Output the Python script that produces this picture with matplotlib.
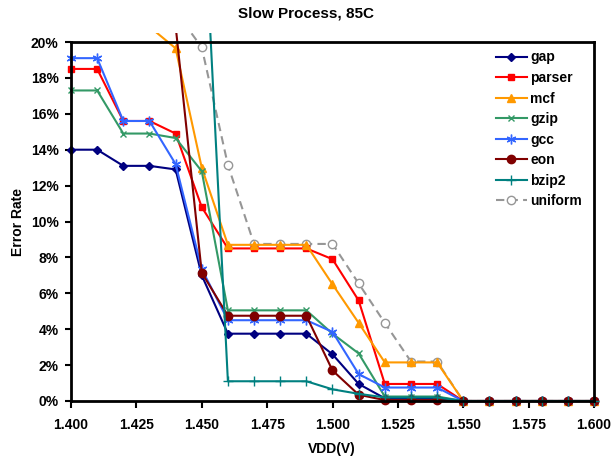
import numpy as np
import matplotlib
matplotlib.use("Agg")
import matplotlib.pyplot as plt
from matplotlib.patches import Rectangle
from matplotlib.ticker import FuncFormatter, MultipleLocator

plt.rcParams["font.family"] = ["Liberation Sans", "DejaVu Sans"]
plt.rcParams["font.weight"] = "bold"

nan = np.nan

# supply voltage steps (V)
vdd = [1.40, 1.41, 1.42, 1.43, 1.44, 1.45, 1.46, 1.47, 1.48, 1.49, 1.50,
       1.51, 1.52, 1.53, 1.54, 1.55, 1.56, 1.57, 1.58, 1.59, 1.60]

# error rate (%) per benchmark, nan = off the top of the scale
gap = [14.0, 14.0, 13.1, 13.1, 12.9, 7.0, 3.75, 3.75, 3.75, 3.75, 2.6,
       0.95, 0.15, 0.15, 0.15, 0, 0, 0, 0, 0, 0]
parser = [18.5, 18.5, 15.6, 15.6, 14.9, 10.8, 8.5, 8.5, 8.5, 8.5, 7.9,
          5.6, 0.95, 0.95, 0.95, 0, 0, 0, 0, 0, 0]
mcf = [nan, nan, nan, 20.85, 19.65, 13.0, 8.7, 8.7, 8.7, 8.7, 6.5,
       4.35, 2.15, 2.15, 2.15, 0, 0, 0, 0, 0, 0]
gzip = [17.3, 17.3, 14.9, 14.9, 14.65, 12.8, 5.05, 5.05, 5.05, 5.05, 3.75,
        2.65, 0.25, 0.25, 0.25, 0, 0, 0, 0, 0, 0]
gcc = [19.1, 19.1, 15.6, 15.6, 13.2, 7.35, 4.5, 4.5, 4.5, 4.5, 3.85,
       1.5, 0.75, 0.75, 0.75, 0, 0, 0, 0, 0, 0]
eon = [nan, nan, nan, nan, 20.9, 7.15, 4.75, 4.75, 4.75, 4.75, 1.7,
       0.35, 0.05, 0.05, 0.05, 0, 0, 0, 0, 0, 0]
bzip2 = [nan, nan, nan, nan, nan, 30.0, 1.1, 1.1, 1.1, 1.1, 0.65,
         0.4, 0.2, 0.2, 0.2, 0, 0, 0, 0, 0, 0]
uniform = [nan, nan, nan, nan, 21.7, 19.7, 13.15, 8.75, 8.75, 8.75, 8.75,
           6.55, 4.35, 2.2, 2.2, 0, 0, 0, 0, 0, 0]

W, H = 613, 457
fig = plt.figure(figsize=(W / 100, H / 100), dpi=100)
ax = fig.add_axes([71 / W, 1 - 401 / H, 523 / W, 359 / H])

# Excel lets lines run a little past the plot box, so clip to a slightly larger rect
clip = Rectangle((-0.02, -0.025), 1.04, 1.05, transform=ax.transAxes,
                 facecolor="none", edgecolor="none")
ax.add_patch(clip)

series = [
    ("uniform", uniform, dict(color="#969696", marker="o", ms=6, mfc="white",
                              mec="#969696", mew=1.0, dashes=(4, 2.5))),
    ("gap", gap, dict(color="#000080", marker="D", ms=4.5)),
    ("parser", parser, dict(color="#FF0000", marker="s", ms=4)),
    ("mcf", mcf, dict(color="#FF9900", marker="^", ms=6)),
    ("gzip", gzip, dict(color="#339966", marker="x", ms=4, mew=1.0)),
    ("gcc", gcc, dict(color="#3366FF", marker=(6, 2, 0), ms=7, mew=1.0)),
    ("eon", eon, dict(color="#800000", marker="o", ms=6)),
    ("bzip2", bzip2, dict(color="#008080", marker="+", ms=7, mew=1.0)),
]

handles = {}
for name, vals, style in series:
    line, = ax.plot(vdd, vals, lw=1.5, label=name, **style)
    line.set_clip_path(clip)
    handles[name] = line

ax.set_xlim(1.4, 1.6)
ax.set_ylim(0, 20)
ax.xaxis.set_major_locator(MultipleLocator(0.025))
ax.yaxis.set_major_locator(MultipleLocator(2))
ax.xaxis.set_major_formatter(FuncFormatter(lambda v, p: f"{v:.3f}"))
ax.yaxis.set_major_formatter(FuncFormatter(lambda v, p: f"{v:.0f}%"))
ax.tick_params(axis="both", direction="out", width=1.5, labelsize=10, pad=5)
ax.tick_params(axis="y", length=4)
ax.tick_params(axis="x", length=5, pad=7)
for s in ax.spines.values():
    s.set_linewidth(2)
    s.set_color("black")
    s.set_zorder(5)

# unframed legend tucked into the top-right corner
order = ["gap", "parser", "mcf", "gzip", "gcc", "eon", "bzip2", "uniform"]
leg = ax.legend([handles[k] for k in order], order, loc="upper left",
                bbox_to_anchor=((496 - 71) / 523, (401 - 50.5) / 359),
                frameon=False, handlelength=2.2, handletextpad=0.25,
                labelspacing=0.47, borderpad=0, borderaxespad=0,
                numpoints=1, prop={"weight": "bold", "size": 10})
leg.set_zorder(10)

fig.text(0.5, 1 - 14 / H, "Slow Process, 85C", ha="center", va="center",
         fontsize=11, fontweight="bold")
fig.text(332 / W, 1 - 449 / H, "VDD(V)", ha="center", va="center",
         fontsize=10, fontweight="bold")
fig.text(18.5 / W, 1 - 222 / H, "Error Rate", ha="center", va="center",
         rotation=90, fontsize=10, fontweight="bold")

fig.savefig("out.png", dpi=100)
